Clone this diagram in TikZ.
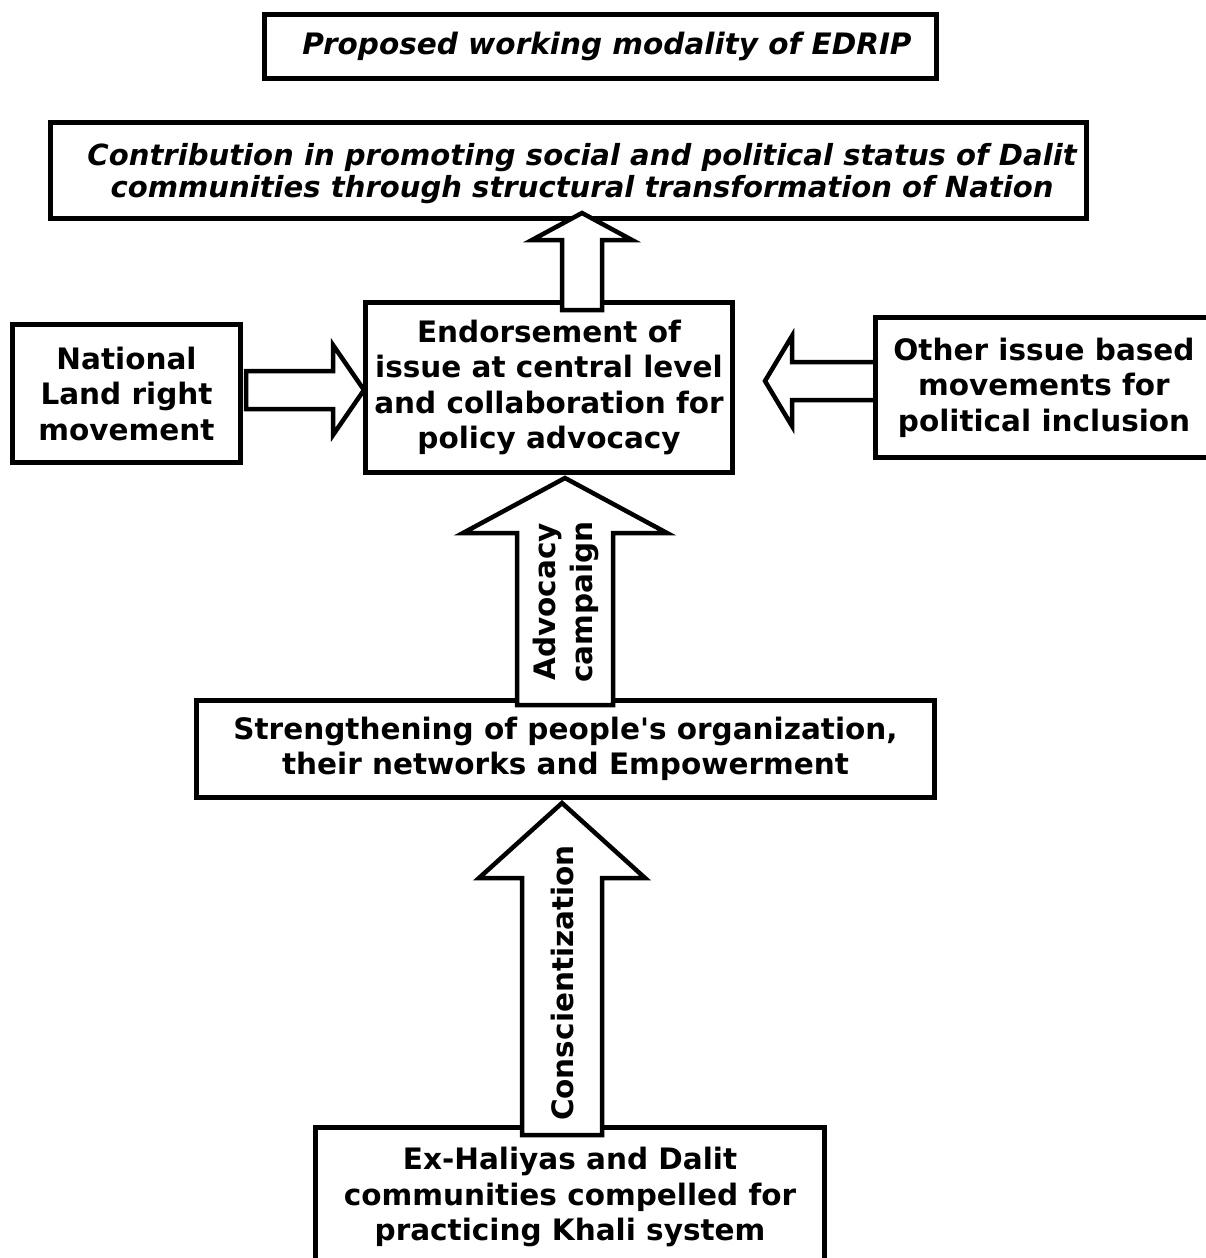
\documentclass[tikz,border=0pt]{standalone}
\usepackage{fontspec}
\setmainfont{DejaVu Sans}
\newcommand\blkup[6]{% xc, ytip, yhead, ybot, half shaft, half head
  \draw[blk] (#1,#2) -- ({#1+#6},#3) -- ({#1+#5},#3) -- ({#1+#5},#4) -- ({#1-#5},#4) -- ({#1-#5},#3) -- ({#1-#6},#3) -- cycle;}
\newcommand\blkh[6]{% yc, xtip, xhead, xend, half shaft, half head
  \draw[blk] (#2,#1) -- (#3,{#1-#6}) -- (#3,{#1-#5}) -- (#4,{#1-#5}) -- (#4,{#1+#5}) -- (#3,{#1+#5}) -- (#3,{#1+#6}) -- cycle;}
\begin{document}
\begin{tikzpicture}[x=1pt,y=-1pt,
  box/.style={draw=black,line width=5pt,fill=white,align=center,inner sep=0pt,
    font=\bfseries\fontsize{29.5}{35.5}\selectfont},
  txt/.style={align=center,inner sep=0pt,font=\bfseries\itshape\fontsize{29.5}{32}\selectfont},
  blk/.style={draw=black,line width=4.5pt,fill=white,line join=miter},
  lbl/.style={align=center,inner sep=0pt,rotate=90,font=\bfseries\fontsize{29.5}{37}\selectfont}]
\clip (0,0) rectangle (1206,1258);
\fill[white] (0,0) rectangle (1206,1258);
% horizontal arrows (behind boxes)
\blkh{390}{364}{333}{246}{19}{45}
\blkh{381}{765}{792}{876}{19}{45}
% boxes
\node[box,minimum width=672,minimum height=64] (title) at (600,46) {};
\node[txt] (titletext) at (607,46) {Proposed working modality of EDRIP};
\node[box,minimum width=1036,minimum height=96] (contrib) at (568,170) {};
\node[txt,font=\bfseries\itshape\fontsize{29.1}{32}\selectfont] (contribtext) at (582,174) {Contribution in promoting social and political status of Dalit\\communities through structural transformation of Nation};
\node[box,minimum width=367,minimum height=170] (endorse) at (549,387.5) {Endorsement of\\issue at central level\\and collaboration for\\policy advocacy};
\node[box,minimum width=228,minimum height=138] (land) at (126.5,393.5) {National\\Land right\\movement};
\node[box,minimum width=338,minimum height=140] (other) at (1044,387.5) {Other issue based\\movements for\\political inclusion};
\node[box,minimum width=738,minimum height=97] (strength) at (565.5,749) {Strengthening of people\textquotesingle s organization,\\their networks and Empowerment};
\node[box,minimum width=509,minimum height=140] (exh) at (570,1197) {Ex-Haliyas and Dalit\\communities compelled for\\practicing Khali system};
% vertical arrows (over boxes)
\blkup{582}{213}{240}{310}{20}{50}
\blkup{565}{478}{533}{705}{48}{102}
\blkup{562}{803}{878}{1135}{40}{83}
\node[lbl] (adv) at (566,602) {Advocacy\\campaign};
\node[lbl] (consc) at (562,983) {Conscientization};
\end{tikzpicture}
\end{document}
